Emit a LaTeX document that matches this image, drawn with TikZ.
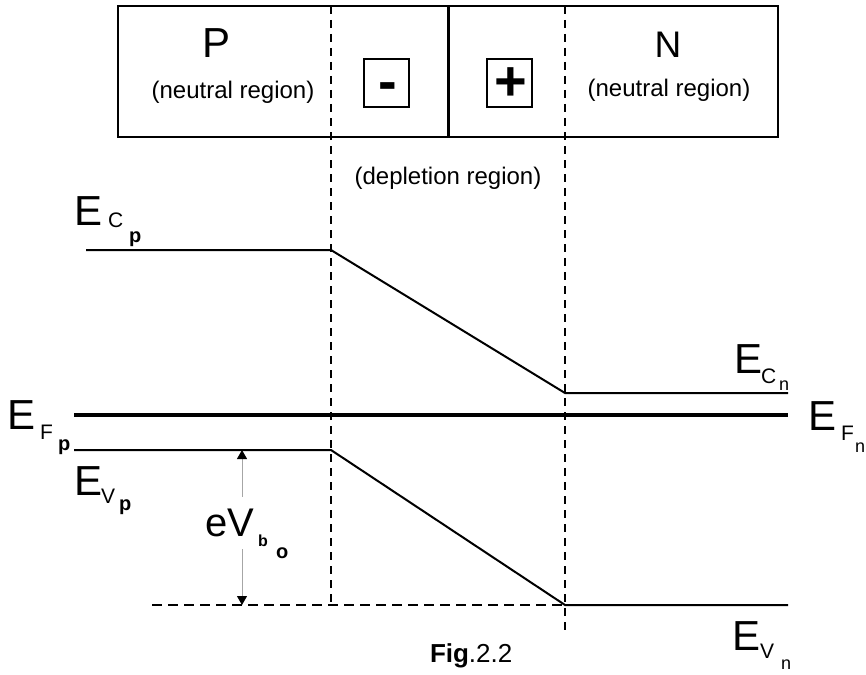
\documentclass[tikz,border=0pt]{standalone}
\usepackage{fontspec}
\setmainfont{Liberation Sans}
\usetikzlibrary{arrows.meta}
\newcommand{\fsz}[1]{\fontsize{#1}{#1}\selectfont}
\begin{document}
\begin{tikzpicture}[x=1pt,y=-1pt,
  frame/.style={line width=2pt},
  band/.style={line width=2pt},
  fermi/.style={line width=4pt},
  vdash/.style={line width=2pt, dash pattern=on 8pt off 6pt},
  hdash/.style={line width=2pt, dash pattern=on 10pt off 6pt},
  lbl/.style={inner sep=0pt, outer sep=0pt, anchor=base west},
  clbl/.style={inner sep=0pt, outer sep=0pt, anchor=base},
  bigE/.style={lbl, font=\fsz{42}},
  subC/.style={lbl, font=\fsz{21}},
  subp/.style={lbl, font=\fsz{20}\bfseries},
  subn/.style={lbl, font=\fsz{18}},
  region/.style={clbl, font=\fsz{24}},
  sign/.style={clbl, font=\fsz{56}\bfseries},
  signbox/.style={draw, line width=2pt, minimum width=45pt, minimum height=48pt, inner sep=0pt}]
\useasboundingbox (0,0) rectangle (866,674);

% top box
\draw[frame] (118,6) rectangle (778,137);
\coordinate (divT) at (448,6);
\coordinate (divB) at (448,137);
\draw[line width=3pt] (divT) -- (divB);

\node[clbl, font=\fsz{42}] (P) at (217,58) {P};
\node[region] (Pneu) at (233,99) {(neutral region)};
\node[clbl, font=\fsz{37}] (N) at (668,58) {N};
\node[region] (Nneu) at (669,96) {(neutral region)};

\node[signbox] (minusbox) at (386.5,83) {};
\node[sign] (minus) at (387.5,100) {-};
\node[signbox] (plusbox) at (509.5,83) {};
\node[sign] (plus) at (511,100.5) {+};

\node[region] (depl) at (448,184) {(depletion region)};

% dashed boundaries
\coordinate (dL1) at (331,6);
\coordinate (dL2) at (331,605);
\coordinate (dR1) at (565,6);
\coordinate (dR2) at (565,630);
\draw[vdash] (dL1) -- (dL2);
\draw[vdash] (dR1) -- (dR2);

% bands
\coordinate (c0) at (86,250);
\coordinate (c1) at (331,250);
\coordinate (c2) at (565,393);
\coordinate (c3) at (788,393);
\draw[band, line join=miter] (c0) -- (c1) -- (c2) -- (c3);

\coordinate (f0) at (74,415);
\coordinate (f1) at (788,415);
\draw[fermi] (f0) -- (f1);

\coordinate (v0) at (74,450);
\coordinate (v1) at (331,450);
\coordinate (v2) at (565,605);
\coordinate (v3) at (788,605);
\draw[band, line join=miter] (v0) -- (v1) -- (v2) -- (v3);

\coordinate (b0) at (152,605);
\draw[hdash] (b0) -- (v2);

% built-in potential arrow
\coordinate (aT) at (242,450);
\coordinate (aB) at (242,605);
\draw[gray!70, line width=1pt, {Triangle[black,width=10pt,length=9pt]}-{Triangle[black,width=10pt,length=9pt]}] (aT) -- (aB);
\node[inner sep=0pt, fill=white, minimum height=52pt, minimum width=20pt] (gap) at (242,523) {};
\node[lbl, font=\fsz{40}] (eV) at (205,536) {eV};
\node[lbl, font=\fsz{16}\bfseries] (eVb) at (258,546) {b};
\node[lbl, font=\fsz{20}\bfseries] (eVo) at (276,558) {o};

% labels
\node[bigE] (Ecp) at (74,225) {E};
\node[subC] (Ecp1) at (108,227) {C};
\node[subp] (Ecp2) at (129,242) {p};

\node[bigE] (Efp) at (7,429) {E};
\node[subC] (Efp1) at (40,439) {F};
\node[subp] (Efp2) at (58,450) {p};

\node[bigE] (Evp) at (74,495) {E};
\node[subC] (Evp1) at (101,503) {V};
\node[subp] (Evp2) at (119,510) {p};

\node[bigE] (Ecn) at (734,373) {E};
\node[subC] (Ecn1) at (761,383) {C};
\node[subn] (Ecn2) at (779,390) {n};

\node[bigE] (Efn) at (808,430) {E};
\node[subC] (Efn1) at (841,440) {F};
\node[subn] (Efn2) at (855,452) {n};

\node[bigE] (Evn) at (732,650) {E};
\node[subC] (Evn1) at (760,658) {V};
\node[subn] (Evn2) at (781,669) {n};

\node[lbl, font=\fsz{26}] (fig) at (430,662) {\textbf{Fig}.2.2};
\end{tikzpicture}
\end{document}
